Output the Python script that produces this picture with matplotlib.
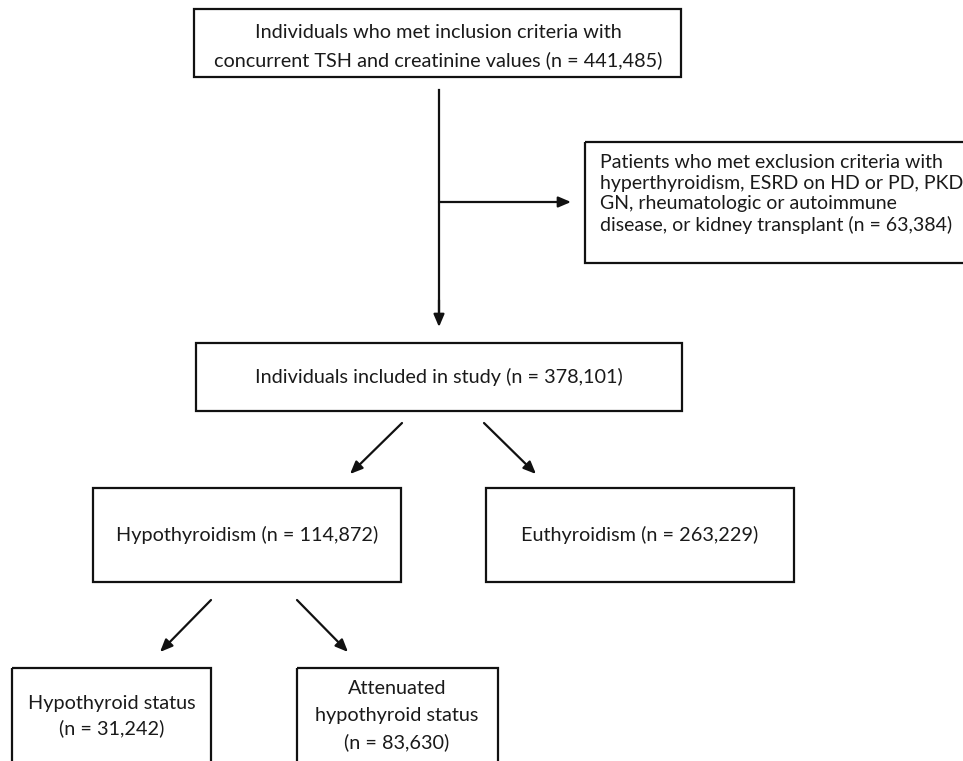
import matplotlib
matplotlib.use("Agg")
import matplotlib.pyplot as plt
from matplotlib.patches import Rectangle

# ---- data ----
total_label = ["Individuals who met inclusion criteria with",
               "concurrent TSH and creatinine values (n = {n})"]
total_n = 441485
excluded_label = ["Patients who met exclusion criteria with",
                  "hyperthyroidism, ESRD on HD or PD, PKD,",
                  "GN, rheumatologic or autoimmune",
                  "disease, or kidney transplant (n = {n})"]
excluded_n = 63384
included_label = ["Individuals included in study (n = {n})"]
included_n = 378101
hypo_label = ["Hypothyroidism (n = {n})"]
hypo_n = 114872
euth_label = ["Euthyroidism (n = {n})"]
euth_n = 263229
hypo_status_label = ["Hypothyroid status", "(n = {n})"]
hypo_status_n = 31242
atten_label = ["Attenuated", "hypothyroid status", "(n = {n})"]
atten_n = 83630

W, H = 963, 761
fig = plt.figure(figsize=(W / 100, H / 100), dpi=100)
ax = fig.add_axes([0, 0, 1, 1])
ax.set_xlim(0, W)
ax.set_ylim(H, 0)
ax.axis("off")

FONT = ["Lato", "DejaVu Sans"]
FS = 14.3
TXT = "#1a1a1a"


def box(x0, y0, x1, y1):
    ax.add_patch(Rectangle((x0, y0), x1 - x0, y1 - y0, fill=False,
                           edgecolor="#111111", linewidth=1.6, clip_on=True))


def lines(label, n, x, ys, ha="center", fs=FS):
    for ln, y in zip(label, ys):
        ax.text(x, y, ln.format(n=f"{n:,}"), ha=ha, va="center",
                fontsize=fs, family=FONT, color=TXT)


def arrow(x0, y0, x1, y1):
    ax.annotate("", xy=(x1, y1), xytext=(x0, y0),
                arrowprops=dict(arrowstyle="-|>,head_length=0.75,head_width=0.32",
                                color="#111111", lw=1.6, shrinkA=0, shrinkB=0))


# boxes
box(194, 9, 681, 77)
lines(total_label, total_n, 438, [32, 60])

box(585, 142, 985, 263)
lines(excluded_label, excluded_n, 600, [162, 183, 204, 225], ha="left", fs=14.0)

box(196, 343, 682, 411)
lines(included_label, included_n, 439, [377])

box(93, 488, 401, 582)
lines(hypo_label, hypo_n, 247, [535])

box(486, 488, 794, 582)
lines(euth_label, euth_n, 640, [535])

box(12, 668, 211, 800)
lines(hypo_status_label, hypo_status_n, 112, [703, 728])

box(297, 668, 498, 800)
lines(atten_label, atten_n, 397, [689, 716, 742])

# connectors
ax.plot([439, 439], [90, 315], color="#111111", lw=1.6)
arrow(439, 300, 439, 327)
arrow(439, 202, 571, 202)
arrow(402, 423, 350, 474)
arrow(484, 423, 536, 474)
arrow(211, 600, 160, 652)
arrow(297, 600, 348, 652)

fig.savefig("out.png", dpi=100, facecolor="white")
